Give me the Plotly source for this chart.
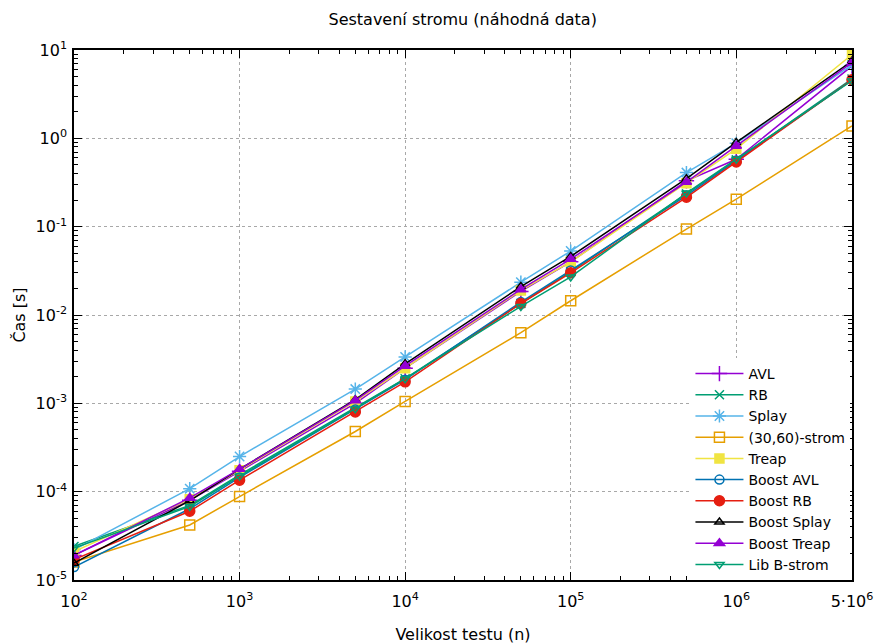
import plotly.graph_objects as go
import math

sizes = [100, 500, 1000, 5000, 10000, 50000, 100000, 500000, 1000000, 5000000]

avl = [1.9e-5, 8.0e-5, 1.7e-4, 1.0e-3, 2.5e-3, 0.0185, 0.040, 0.33, 0.58, 6.6]
rb = [2.4e-5, 7.0e-5, 1.55e-4, 9.0e-4, 1.9e-3, 0.0135, 0.031, 0.235, 0.57, 4.7]
splay = [2.2e-5, 1.08e-4, 2.5e-4, 1.45e-3, 3.35e-3, 0.0235, 0.053, 0.41, 0.88, 6.8]
strom3060 = [1.6e-5, 4.2e-5, 8.8e-5, 4.8e-4, 1.05e-3, 6.3e-3, 0.0145, 0.094, 0.205, 1.38]
treap = [2.1e-5, 8.2e-5, 1.75e-4, 1.05e-3, 2.5e-3, 0.019, 0.040, 0.31, 0.76, 8.9]
boost_avl = [1.4e-5, 6.4e-5, 1.45e-4, 8.5e-4, 1.85e-3, 0.0140, 0.032, 0.225, 0.56, 4.6]
boost_rb = [1.7e-5, 6.0e-5, 1.35e-4, 8.0e-4, 1.75e-3, 0.0135, 0.030, 0.215, 0.54, 4.6]
boost_splay = [1.55e-5, 7.9e-5, 1.8e-4, 1.1e-3, 2.8e-3, 0.021, 0.046, 0.35, 0.90, 7.5]
boost_treap = [1.9e-5, 8.5e-5, 1.8e-4, 1.08e-3, 2.65e-3, 0.0195, 0.043, 0.32, 0.82, 7.2]
lib_bstrom = [2.3e-5, 6.8e-5, 1.5e-4, 8.7e-4, 1.9e-3, 0.0125, 0.027, 0.24, 0.58, 4.5]

series_names = ["AVL", "RB", "Splay", "(30,60)-strom", "Treap", "Boost AVL",
                "Boost RB", "Boost Splay", "Boost Treap", "Lib B-strom"]
series_values = [avl, rb, splay, strom3060, treap, boost_avl, boost_rb,
                 boost_splay, boost_treap, lib_bstrom]
colors = ["#9400d3", "#009e73", "#56b4e9", "#e69f00", "#f0e442", "#0072b2",
          "#e51e10", "#000000", "#9400d3", "#009e73"]
symbols = ["cross-thin-open", "x-thin-open", "asterisk-open", "square-open", "square",
           "circle-open", "circle", "triangle-up-open", "triangle-up", "triangle-down-open"]
msizes = [11, 9, 11, 10, 9, 9, 10, 8, 9, 8]

x_tickvals = [100, 1000, 10000, 100000, 1000000, 5000000]
x_ticktext = ["10<sup>2</sup>", "10<sup>3</sup>", "10<sup>4</sup>", "10<sup>5</sup>",
              "10<sup>6</sup>", "5·10<sup>6</sup>"]
y_tickvals = [1e-5, 1e-4, 1e-3, 1e-2, 1e-1, 1, 10]
y_ticktext = ["10<sup>-5</sup>", "10<sup>-4</sup>", "10<sup>-3</sup>", "10<sup>-2</sup>",
              "10<sup>-1</sup>", "10<sup>0</sup>", "10<sup>1</sup>"]

x_minor = [m * 10 ** e for e in range(2, 7) for m in range(2, 10) if m * 10 ** e < 5000000]
y_minor = [m * 10.0 ** e for e in range(-5, 1) for m in range(2, 10)]

fig = go.Figure()
for name, vals, c, s, ms in zip(series_names, series_values, colors, symbols, msizes):
    fig.add_trace(go.Scatter(
        x=sizes, y=vals, name=name, mode="lines+markers",
        line=dict(color=c, width=1.5),
        marker=dict(symbol=s, size=ms, color=c, line=dict(color=c, width=1.5)),
    ))

font = "DejaVu Sans"
axis_common = dict(
    type="log", showline=True, linecolor="black", linewidth=1.5, mirror="ticks",
    ticks="inside", ticklen=8, tickwidth=1, tickcolor="black",
    showgrid=True, gridcolor="#a8a8a8", griddash="dot", gridwidth=1,
    zeroline=False, automargin=False,
    tickfont=dict(family=font, size=16, color="black"),
)

fig.update_layout(
    width=878, height=644,
    margin=dict(l=74, r=26, t=50, b=64),
    paper_bgcolor="white", plot_bgcolor="white",
    title=dict(text="Sestavení stromu (náhodná data)", x=0.527, xanchor="center",
               y=0.97, yanchor="middle", font=dict(family=font, size=16, color="black")),
    font=dict(family=font, size=16, color="black"),
    showlegend=True,
    legend=dict(x=0.998, xanchor="right", y=0.0, yanchor="bottom",
                bgcolor="white", borderwidth=0, tracegroupgap=0,
                font=dict(family=font, size=14, color="black"),
                itemwidth=48),
)
fig.update_xaxes(**axis_common,
                 range=[2, math.log10(5000000)],
                 tickvals=x_tickvals, ticktext=x_ticktext, ticklabelstandoff=6,
                 minor=dict(tickvals=x_minor, ticks="inside", ticklen=4, tickcolor="black", showgrid=False),
                 title=dict(text="Velikost testu (n)", font=dict(family=font, size=16), standoff=20))
fig.update_yaxes(**axis_common,
                 range=[-5, 1],
                 tickvals=y_tickvals, ticktext=y_ticktext, ticklabelstandoff=2,
                 minor=dict(tickvals=y_minor, ticks="inside", ticklen=4, tickcolor="black", showgrid=False),
                 title=dict(text="Čas [s]", font=dict(family=font, size=16), standoff=6))

fig.write_html("out.html")
